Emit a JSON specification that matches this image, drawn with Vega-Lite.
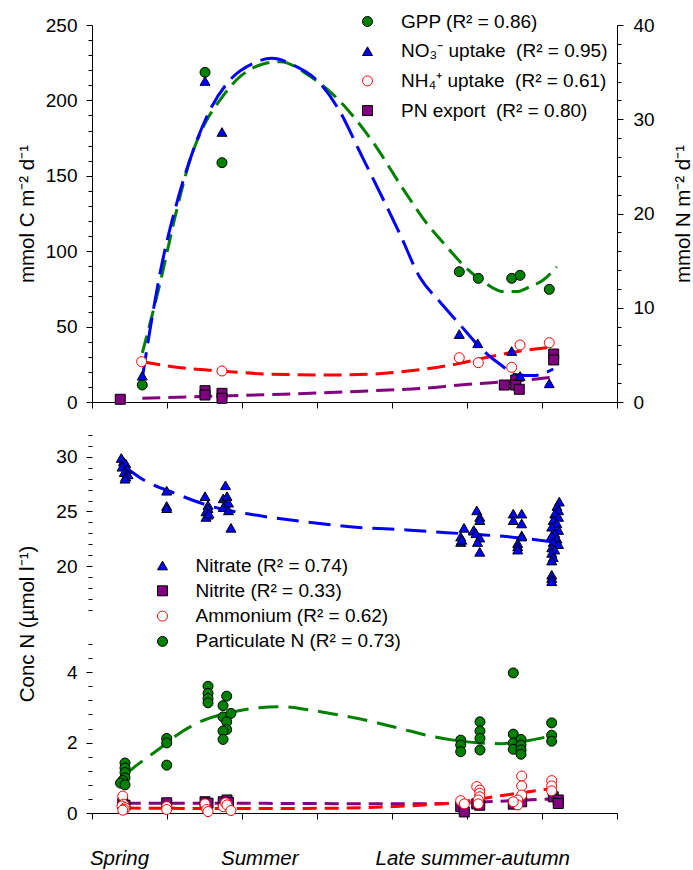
{
  "$schema": "https://vega.github.io/schema/vega-lite/v6.json",
  "padding": {"left": 17, "top": 12, "right": 0, "bottom": 0},
  "config": {
    "font": "Liberation Sans",
    "view": {"stroke": null},
    "axis": {"domainColor": "#000", "tickColor": "#000", "labelColor": "#000", "titleColor": "#000", "grid": false, "labelFont": "Liberation Sans", "titleFont": "Liberation Sans", "labelFontSize": 19, "titleFontSize": 20.5, "titleFontWeight": "normal", "tickSize": 6, "domainWidth": 1, "tickWidth": 1, "labelOverlap": false, "labelLimit": 400},
    "legend": {"labelFont": "Liberation Sans", "labelFontSize": 19, "labelColor": "#000", "padding": 0, "symbolStrokeWidth": 1, "symbolSize": 100, "labelLimit": 400}
  },
  "datasets": {
    "topPts": [
      {"s": "GPP", "x": 0.67, "v": 11.3},
      {"s": "GPP", "x": 1.507, "v": 218.6},
      {"s": "GPP", "x": 1.733, "v": 158.7},
      {"s": "GPP", "x": 4.897, "v": 86.4},
      {"s": "GPP", "x": 5.151, "v": 82.0},
      {"s": "GPP", "x": 5.596, "v": 82.0},
      {"s": "GPP", "x": 5.707, "v": 84.0},
      {"s": "GPP", "x": 6.097, "v": 74.7},
      {"s": "PN", "x": 0.377, "v": 0.29},
      {"s": "PN", "x": 1.507, "v": 1.2},
      {"s": "PN", "x": 1.507, "v": 0.74},
      {"s": "PN", "x": 1.733, "v": 0.92},
      {"s": "PN", "x": 1.733, "v": 0.39},
      {"s": "PN", "x": 5.497, "v": 1.8},
      {"s": "PN", "x": 5.649, "v": 2.33},
      {"s": "PN", "x": 5.649, "v": 1.8},
      {"s": "PN", "x": 5.697, "v": 1.35},
      {"s": "PN", "x": 6.156, "v": 5.09},
      {"s": "PN", "x": 6.156, "v": 4.46},
      {"s": "NO3", "x": 0.67, "v": 2.79},
      {"s": "NO3", "x": 1.507, "v": 34.06},
      {"s": "NO3", "x": 1.733, "v": 28.65},
      {"s": "NO3", "x": 4.897, "v": 7.21},
      {"s": "NO3", "x": 5.143, "v": 6.23},
      {"s": "NO3", "x": 5.596, "v": 5.41},
      {"s": "NO3", "x": 5.707, "v": 2.76},
      {"s": "NO3", "x": 6.097, "v": 1.98},
      {"s": "NH4", "x": 0.662, "v": 4.28},
      {"s": "NH4", "x": 1.733, "v": 3.29},
      {"s": "NH4", "x": 4.897, "v": 4.70},
      {"s": "NH4", "x": 5.151, "v": 4.17},
      {"s": "NH4", "x": 5.596, "v": 3.68},
      {"s": "NH4", "x": 5.707, "v": 6.05},
      {"s": "NH4", "x": 6.097, "v": 6.29}
    ],
    "topFit": [
      {"s": "GPP", "x": 0.671, "v": 32.5},
      {"s": "GPP", "x": 0.907, "v": 78.7},
      {"s": "GPP", "x": 1.129, "v": 127.3},
      {"s": "GPP", "x": 1.307, "v": 160.5},
      {"s": "GPP", "x": 1.507, "v": 184.8},
      {"s": "GPP", "x": 1.707, "v": 200.3},
      {"s": "GPP", "x": 1.973, "v": 215.7},
      {"s": "GPP", "x": 2.24, "v": 223.5},
      {"s": "GPP", "x": 2.507, "v": 225.7},
      {"s": "GPP", "x": 2.907, "v": 216},
      {"s": "GPP", "x": 3.213, "v": 204},
      {"s": "GPP", "x": 3.44, "v": 192},
      {"s": "GPP", "x": 3.751, "v": 172},
      {"s": "GPP", "x": 4.151, "v": 141},
      {"s": "GPP", "x": 4.463, "v": 118.5},
      {"s": "GPP", "x": 4.729, "v": 103},
      {"s": "GPP", "x": 4.973, "v": 89.7},
      {"s": "GPP", "x": 5.217, "v": 79.8},
      {"s": "GPP", "x": 5.484, "v": 73.2},
      {"s": "GPP", "x": 5.663, "v": 73.2},
      {"s": "GPP", "x": 5.84, "v": 76.5},
      {"s": "GPP", "x": 6.017, "v": 80.9},
      {"s": "GPP", "x": 6.196, "v": 89.7},
      {"s": "NO3", "x": 0.671, "v": 2.55},
      {"s": "NO3", "x": 0.773, "v": 7.64},
      {"s": "NO3", "x": 0.907, "v": 13.65},
      {"s": "NO3", "x": 1.129, "v": 21.08},
      {"s": "NO3", "x": 1.351, "v": 26.74},
      {"s": "NO3", "x": 1.573, "v": 30.98},
      {"s": "NO3", "x": 1.84, "v": 34.16},
      {"s": "NO3", "x": 2.151, "v": 35.93},
      {"s": "NO3", "x": 2.396, "v": 36.46},
      {"s": "NO3", "x": 2.684, "v": 35.76},
      {"s": "NO3", "x": 3.04, "v": 33.81},
      {"s": "NO3", "x": 3.307, "v": 30.8},
      {"s": "NO3", "x": 3.573, "v": 26.5},
      {"s": "NO3", "x": 3.84, "v": 22.2},
      {"s": "NO3", "x": 4.107, "v": 17.8},
      {"s": "NO3", "x": 4.373, "v": 13.2},
      {"s": "NO3", "x": 4.64, "v": 10.6},
      {"s": "NO3", "x": 4.907, "v": 8.2},
      {"s": "NO3", "x": 5.173, "v": 5.8},
      {"s": "NO3", "x": 5.44, "v": 4.0},
      {"s": "NO3", "x": 5.663, "v": 2.9},
      {"s": "NO3", "x": 5.884, "v": 2.8},
      {"s": "NO3", "x": 6.151, "v": 3.5},
      {"s": "NH4", "x": 0.671, "v": 4.28},
      {"s": "NH4", "x": 1.129, "v": 3.68},
      {"s": "NH4", "x": 1.733, "v": 3.29},
      {"s": "NH4", "x": 2.329, "v": 2.97},
      {"s": "NH4", "x": 3.213, "v": 2.86},
      {"s": "NH4", "x": 3.751, "v": 2.97},
      {"s": "NH4", "x": 4.417, "v": 3.47},
      {"s": "NH4", "x": 4.907, "v": 4.1},
      {"s": "NH4", "x": 5.307, "v": 4.81},
      {"s": "NH4", "x": 5.663, "v": 5.34},
      {"s": "NH4", "x": 6.151, "v": 5.87},
      {"s": "PN", "x": 0.671, "v": 0.39},
      {"s": "PN", "x": 1.733, "v": 0.64},
      {"s": "PN", "x": 2.551, "v": 0.82},
      {"s": "PN", "x": 3.44, "v": 1.09},
      {"s": "PN", "x": 3.751, "v": 1.2},
      {"s": "PN", "x": 4.417, "v": 1.45},
      {"s": "PN", "x": 4.907, "v": 1.8},
      {"s": "PN", "x": 5.484, "v": 2.15},
      {"s": "PN", "x": 5.884, "v": 2.41},
      {"s": "PN", "x": 6.151, "v": 2.65}
    ],
    "botPts": [
      {"s": "Nitrite", "x": 0.41, "v": 0.27},
      {"s": "Nitrite", "x": 0.44, "v": 0.22},
      {"s": "Nitrite", "x": 0.996, "v": 0.29},
      {"s": "Nitrite", "x": 1.507, "v": 0.32},
      {"s": "Nitrite", "x": 1.547, "v": 0.28},
      {"s": "Nitrite", "x": 1.75, "v": 0.32},
      {"s": "Nitrite", "x": 1.8, "v": 0.37},
      {"s": "Nitrite", "x": 1.82, "v": 0.3},
      {"s": "Nitrite", "x": 4.916, "v": 0.18},
      {"s": "Nitrite", "x": 4.964, "v": 0.03},
      {"s": "Nitrite", "x": 5.13, "v": 0.26},
      {"s": "Nitrite", "x": 5.17, "v": 0.22},
      {"s": "Nitrite", "x": 5.617, "v": 0.25},
      {"s": "Nitrite", "x": 5.729, "v": 0.32},
      {"s": "Nitrite", "x": 6.15, "v": 0.46},
      {"s": "Nitrite", "x": 6.217, "v": 0.37},
      {"s": "Nitrite", "x": 6.217, "v": 0.27},
      {"s": "Ammonium", "x": 0.41, "v": 0.48},
      {"s": "Ammonium", "x": 0.42, "v": 0.25},
      {"s": "Ammonium", "x": 0.40, "v": 0.2},
      {"s": "Ammonium", "x": 0.44, "v": 0.15},
      {"s": "Ammonium", "x": 0.43, "v": 0.1},
      {"s": "Ammonium", "x": 0.41, "v": 0.08},
      {"s": "Ammonium", "x": 0.996, "v": 0.18},
      {"s": "Ammonium", "x": 0.996, "v": 0.1},
      {"s": "Ammonium", "x": 1.507, "v": 0.26},
      {"s": "Ammonium", "x": 1.53, "v": 0.1},
      {"s": "Ammonium", "x": 1.547, "v": 0.04},
      {"s": "Ammonium", "x": 1.75, "v": 0.18},
      {"s": "Ammonium", "x": 1.78, "v": 0.29},
      {"s": "Ammonium", "x": 1.8, "v": 0.23},
      {"s": "Ammonium", "x": 1.853, "v": 0.07},
      {"s": "Ammonium", "x": 4.916, "v": 0.35},
      {"s": "Ammonium", "x": 4.964, "v": 0.26},
      {"s": "Ammonium", "x": 5.13, "v": 0.75},
      {"s": "Ammonium", "x": 5.17, "v": 0.65},
      {"s": "Ammonium", "x": 5.17, "v": 0.56},
      {"s": "Ammonium", "x": 5.17, "v": 0.46},
      {"s": "Ammonium", "x": 5.15, "v": 0.37},
      {"s": "Ammonium", "x": 5.15, "v": 0.26},
      {"s": "Ammonium", "x": 5.729, "v": 1.05},
      {"s": "Ammonium", "x": 5.729, "v": 0.77},
      {"s": "Ammonium", "x": 5.729, "v": 0.51},
      {"s": "Ammonium", "x": 5.676, "v": 0.37},
      {"s": "Ammonium", "x": 5.676, "v": 0.23},
      {"s": "Ammonium", "x": 5.617, "v": 0.32},
      {"s": "Ammonium", "x": 6.129, "v": 0.92},
      {"s": "Ammonium", "x": 6.129, "v": 0.77},
      {"s": "Ammonium", "x": 6.129, "v": 0.63},
      {"s": "PartN", "x": 0.44, "v": 1.42},
      {"s": "PartN", "x": 0.44, "v": 1.28},
      {"s": "PartN", "x": 0.44, "v": 1.15},
      {"s": "PartN", "x": 0.44, "v": 1.0},
      {"s": "PartN", "x": 0.41, "v": 0.92},
      {"s": "PartN", "x": 0.38, "v": 0.85},
      {"s": "PartN", "x": 0.44, "v": 0.8},
      {"s": "PartN", "x": 0.996, "v": 2.12},
      {"s": "PartN", "x": 0.996, "v": 1.99},
      {"s": "PartN", "x": 0.996, "v": 1.36},
      {"s": "PartN", "x": 1.547, "v": 3.6},
      {"s": "PartN", "x": 1.547, "v": 3.4},
      {"s": "PartN", "x": 1.547, "v": 3.25},
      {"s": "PartN", "x": 1.547, "v": 3.13},
      {"s": "PartN", "x": 1.796, "v": 3.32},
      {"s": "PartN", "x": 1.747, "v": 3.05},
      {"s": "PartN", "x": 1.747, "v": 2.73},
      {"s": "PartN", "x": 1.853, "v": 2.83},
      {"s": "PartN", "x": 1.796, "v": 2.59},
      {"s": "PartN", "x": 1.796, "v": 2.37},
      {"s": "PartN", "x": 1.747, "v": 2.33},
      {"s": "PartN", "x": 1.747, "v": 2.09},
      {"s": "PartN", "x": 4.916, "v": 2.07},
      {"s": "PartN", "x": 4.916, "v": 1.93},
      {"s": "PartN", "x": 4.916, "v": 1.74},
      {"s": "PartN", "x": 5.173, "v": 2.59},
      {"s": "PartN", "x": 5.173, "v": 2.33},
      {"s": "PartN", "x": 5.173, "v": 2.12},
      {"s": "PartN", "x": 5.173, "v": 1.79},
      {"s": "PartN", "x": 5.617, "v": 3.98},
      {"s": "PartN", "x": 5.617, "v": 2.24},
      {"s": "PartN", "x": 5.617, "v": 1.99},
      {"s": "PartN", "x": 5.617, "v": 1.81},
      {"s": "PartN", "x": 5.72, "v": 2.09},
      {"s": "PartN", "x": 5.72, "v": 1.93},
      {"s": "PartN", "x": 5.72, "v": 1.79},
      {"s": "PartN", "x": 5.72, "v": 1.67},
      {"s": "PartN", "x": 6.129, "v": 2.56},
      {"s": "PartN", "x": 6.129, "v": 2.21},
      {"s": "PartN", "x": 6.129, "v": 2.04},
      {"s": "Nitrate", "x": 0.39, "v": 29.9},
      {"s": "Nitrate", "x": 0.42, "v": 29.6},
      {"s": "Nitrate", "x": 0.45, "v": 29.4},
      {"s": "Nitrate", "x": 0.40, "v": 29.1},
      {"s": "Nitrate", "x": 0.47, "v": 28.9},
      {"s": "Nitrate", "x": 0.43, "v": 28.6},
      {"s": "Nitrate", "x": 0.48, "v": 28.4},
      {"s": "Nitrate", "x": 0.45, "v": 28.2},
      {"s": "Nitrate", "x": 0.44, "v": 28.0},
      {"s": "Nitrate", "x": 0.996, "v": 26.9},
      {"s": "Nitrate", "x": 0.996, "v": 25.5},
      {"s": "Nitrate", "x": 0.996, "v": 25.3},
      {"s": "Nitrate", "x": 1.507, "v": 26.4},
      {"s": "Nitrate", "x": 1.547, "v": 25.6},
      {"s": "Nitrate", "x": 1.547, "v": 25.3},
      {"s": "Nitrate", "x": 1.52, "v": 25.0},
      {"s": "Nitrate", "x": 1.547, "v": 24.7},
      {"s": "Nitrate", "x": 1.52, "v": 24.5},
      {"s": "Nitrate", "x": 1.56, "v": 24.8},
      {"s": "Nitrate", "x": 1.75, "v": 26.2},
      {"s": "Nitrate", "x": 1.78, "v": 27.4},
      {"s": "Nitrate", "x": 1.80, "v": 25.9},
      {"s": "Nitrate", "x": 1.75, "v": 25.4},
      {"s": "Nitrate", "x": 1.82, "v": 25.1},
      {"s": "Nitrate", "x": 1.80, "v": 26.4},
      {"s": "Nitrate", "x": 1.853, "v": 23.5},
      {"s": "Nitrate", "x": 1.82, "v": 25.8},
      {"s": "Nitrate", "x": 4.916, "v": 22.7},
      {"s": "Nitrate", "x": 4.916, "v": 22.2},
      {"s": "Nitrate", "x": 4.96, "v": 23.5},
      {"s": "Nitrate", "x": 4.93, "v": 22.4},
      {"s": "Nitrate", "x": 5.13, "v": 25.1},
      {"s": "Nitrate", "x": 5.17, "v": 24.5},
      {"s": "Nitrate", "x": 5.17, "v": 24.2},
      {"s": "Nitrate", "x": 5.09, "v": 23.3},
      {"s": "Nitrate", "x": 5.12, "v": 23.0},
      {"s": "Nitrate", "x": 5.17, "v": 22.6},
      {"s": "Nitrate", "x": 5.17, "v": 21.3},
      {"s": "Nitrate", "x": 5.14, "v": 22.2},
      {"s": "Nitrate", "x": 5.617, "v": 24.8},
      {"s": "Nitrate", "x": 5.617, "v": 24.2},
      {"s": "Nitrate", "x": 5.729, "v": 24.8},
      {"s": "Nitrate", "x": 5.729, "v": 23.9},
      {"s": "Nitrate", "x": 5.73, "v": 22.8},
      {"s": "Nitrate", "x": 5.73, "v": 22.7},
      {"s": "Nitrate", "x": 5.676, "v": 22.1},
      {"s": "Nitrate", "x": 5.676, "v": 21.8},
      {"s": "Nitrate", "x": 5.676, "v": 21.5},
      {"s": "Nitrate", "x": 6.23, "v": 25.9},
      {"s": "Nitrate", "x": 6.2, "v": 25.5},
      {"s": "Nitrate", "x": 6.22, "v": 25.1},
      {"s": "Nitrate", "x": 6.17, "v": 24.8},
      {"s": "Nitrate", "x": 6.22, "v": 24.5},
      {"s": "Nitrate", "x": 6.15, "v": 24.2},
      {"s": "Nitrate", "x": 6.2, "v": 23.9},
      {"s": "Nitrate", "x": 6.13, "v": 23.6},
      {"s": "Nitrate", "x": 6.22, "v": 23.3},
      {"s": "Nitrate", "x": 6.17, "v": 23.0},
      {"s": "Nitrate", "x": 6.13, "v": 22.8},
      {"s": "Nitrate", "x": 6.2, "v": 22.5},
      {"s": "Nitrate", "x": 6.15, "v": 22.2},
      {"s": "Nitrate", "x": 6.22, "v": 22.0},
      {"s": "Nitrate", "x": 6.13, "v": 21.7},
      {"s": "Nitrate", "x": 6.17, "v": 21.5},
      {"s": "Nitrate", "x": 6.13, "v": 21.2},
      {"s": "Nitrate", "x": 6.15, "v": 20.8},
      {"s": "Nitrate", "x": 6.13, "v": 20.5},
      {"s": "Nitrate", "x": 6.13, "v": 19.2},
      {"s": "Nitrate", "x": 6.13, "v": 18.9},
      {"s": "Nitrate", "x": 6.13, "v": 18.6}
    ],
    "botFit": [
      {"s": "Nitrate", "x": 0.463, "v": 28.96},
      {"s": "Nitrate", "x": 0.684, "v": 27.9},
      {"s": "Nitrate", "x": 1.129, "v": 26.6},
      {"s": "Nitrate", "x": 1.573, "v": 25.5},
      {"s": "Nitrate", "x": 2.151, "v": 24.7},
      {"s": "Nitrate", "x": 2.773, "v": 24.1},
      {"s": "Nitrate", "x": 3.44, "v": 23.6},
      {"s": "Nitrate", "x": 4.196, "v": 23.3},
      {"s": "Nitrate", "x": 4.64, "v": 23.1},
      {"s": "Nitrate", "x": 5.084, "v": 22.9},
      {"s": "Nitrate", "x": 5.529, "v": 22.7},
      {"s": "Nitrate", "x": 6.151, "v": 22.2},
      {"s": "PartN", "x": 0.463, "v": 1.13},
      {"s": "PartN", "x": 0.684, "v": 1.5},
      {"s": "PartN", "x": 0.907, "v": 1.84},
      {"s": "PartN", "x": 1.129, "v": 2.21},
      {"s": "PartN", "x": 1.44, "v": 2.59},
      {"s": "PartN", "x": 1.796, "v": 2.83},
      {"s": "PartN", "x": 2.151, "v": 2.97},
      {"s": "PartN", "x": 2.507, "v": 3.02},
      {"s": "PartN", "x": 2.863, "v": 2.94},
      {"s": "PartN", "x": 3.307, "v": 2.78},
      {"s": "PartN", "x": 3.751, "v": 2.59},
      {"s": "PartN", "x": 4.107, "v": 2.4},
      {"s": "PartN", "x": 4.463, "v": 2.21},
      {"s": "PartN", "x": 4.817, "v": 2.07},
      {"s": "PartN", "x": 5.173, "v": 1.99},
      {"s": "PartN", "x": 5.44, "v": 1.97},
      {"s": "PartN", "x": 5.707, "v": 2.02},
      {"s": "PartN", "x": 5.973, "v": 2.12},
      {"s": "PartN", "x": 6.151, "v": 2.21},
      {"s": "Nitrite", "x": 0.463, "v": 0.28},
      {"s": "Nitrite", "x": 1.44, "v": 0.28},
      {"s": "Nitrite", "x": 2.773, "v": 0.27},
      {"s": "Nitrite", "x": 4.107, "v": 0.26},
      {"s": "Nitrite", "x": 4.773, "v": 0.27},
      {"s": "Nitrite", "x": 5.173, "v": 0.31},
      {"s": "Nitrite", "x": 5.707, "v": 0.36},
      {"s": "Nitrite", "x": 6.151, "v": 0.4},
      {"s": "Ammonium", "x": 0.463, "v": 0.14},
      {"s": "Ammonium", "x": 1.44, "v": 0.13},
      {"s": "Ammonium", "x": 2.773, "v": 0.13},
      {"s": "Ammonium", "x": 3.573, "v": 0.15},
      {"s": "Ammonium", "x": 4.107, "v": 0.19},
      {"s": "Ammonium", "x": 4.507, "v": 0.24},
      {"s": "Ammonium", "x": 4.907, "v": 0.31},
      {"s": "Ammonium", "x": 5.173, "v": 0.4},
      {"s": "Ammonium", "x": 5.707, "v": 0.57},
      {"s": "Ammonium", "x": 6.151, "v": 0.7}
    ]
  },
  "spacing": 14,
  "resolve": {"scale": {"fill": "independent", "shape": "independent", "stroke": "independent"}, "legend": {"fill": "independent", "shape": "independent", "stroke": "independent"}},
  "vconcat": [
    {
      "width": 525,
      "height": 377,
      "resolve": {"scale": {"y": "independent"}},
      "layer": [
        {
          "encoding": {
            "x": {"field": "x", "type": "quantitative", "scale": {"domain": [0, 7], "nice": false, "zero": false}, "axis": {"values": [0, 1, 2, 3, 4, 5, 6, 7], "labels": false, "title": null, "tickSize": 6}},
            "y": {"field": "v", "type": "quantitative", "scale": {"domain": [0, 250], "nice": false}, "axis": {"orient": "left", "values": [0, 10, 20, 30, 40, 50, 60, 70, 80, 90, 100, 110, 120, 130, 140, 150, 160, 170, 180, 190, 200, 210, 220, 230, 240, 250], "labelExpr": "datum.value % 50 == 0 ? datum.label : ''", "tickSize": {"condition": {"test": "datum.value % 50 == 0", "value": 6}, "value": 4}, "title": "mmol C m⁻² d⁻¹", "titlePadding": 8, "labelPadding": 9}}
          },
          "layer": [
            {"data": {"name": "topFit"}, "transform": [{"filter": "datum.s == 'GPP'"}], "mark": {"type": "line", "color": "#008000", "strokeWidth": 3, "strokeDash": [18, 8], "interpolate": "monotone"}},
            {"data": {"name": "topPts"}, "transform": [{"filter": "datum.s == 'GPP'"}], "mark": {"type": "point", "filled": true, "size": 100, "strokeWidth": 1, "opacity": 1},
             "encoding": {
               "fill": {"field": "s", "type": "nominal", "scale": {"domain": ["GPP", "NO3", "NH4", "PN"], "range": ["#008000", "#0000ff", "#ffffff", "#800080"]}, "legend": {"orient": "none", "legendX": 266, "legendY": -13, "title": null, "rowPadding": 9.7, "labelOffset": 24, "labelExpr": "datum.label == 'GPP' ? 'GPP (R² = 0.86)' : datum.label == 'NO3' ? 'NO₃⁻ uptake\u00a0 (R² = 0.95)' : datum.label == 'NH4' ? 'NH₄⁺ uptake\u00a0 (R² = 0.61)' : 'PN export\u00a0 (R² = 0.80)'"}},
               "shape": {"field": "s", "type": "nominal", "scale": {"domain": ["GPP", "NO3", "NH4", "PN"], "range": ["circle", "triangle-up", "circle", "square"]}, "legend": {"orient": "none", "legendX": 266, "legendY": -13, "title": null, "rowPadding": 9.7, "labelOffset": 24, "labelExpr": "datum.label == 'GPP' ? 'GPP (R² = 0.86)' : datum.label == 'NO3' ? 'NO₃⁻ uptake\u00a0 (R² = 0.95)' : datum.label == 'NH4' ? 'NH₄⁺ uptake\u00a0 (R² = 0.61)' : 'PN export\u00a0 (R² = 0.80)'"}},
               "stroke": {"field": "s", "type": "nominal", "scale": {"domain": ["GPP", "NO3", "NH4", "PN"], "range": ["#000000", "#000000", "#ff0000", "#000000"]}, "legend": {"orient": "none", "legendX": 266, "legendY": -13, "title": null, "rowPadding": 9.7, "labelOffset": 24, "labelExpr": "datum.label == 'GPP' ? 'GPP (R² = 0.86)' : datum.label == 'NO3' ? 'NO₃⁻ uptake\u00a0 (R² = 0.95)' : datum.label == 'NH4' ? 'NH₄⁺ uptake\u00a0 (R² = 0.61)' : 'PN export\u00a0 (R² = 0.80)'"}}
             }
            }
          ]
        },
        {
          "encoding": {
            "x": {"field": "x", "type": "quantitative", "scale": {"domain": [0, 7], "nice": false, "zero": false}, "axis": {"values": [0, 1, 2, 3, 4, 5, 6, 7], "labels": false, "title": null, "tickSize": 6}},
            "y": {"field": "v", "type": "quantitative", "scale": {"domain": [0, 40], "nice": false}, "axis": {"orient": "right", "values": [0, 2, 4, 6, 8, 10, 12, 14, 16, 18, 20, 22, 24, 26, 28, 30, 32, 34, 36, 38, 40], "labelExpr": "datum.value % 10 == 0 ? datum.label : ''", "tickSize": {"condition": {"test": "datum.value % 10 == 0", "value": 6}, "value": 4}, "title": "mmol N m⁻² d⁻¹", "titleAngle": 270, "titlePadding": 39, "labelPadding": 10}}
          },
          "layer": [
            {"data": {"name": "topFit"}, "transform": [{"filter": "datum.s == 'PN'"}], "mark": {"type": "line", "color": "#800080", "strokeWidth": 3, "strokeDash": [18, 8], "interpolate": "monotone"}},
            {"data": {"name": "topFit"}, "transform": [{"filter": "datum.s == 'NH4'"}], "mark": {"type": "line", "color": "#ff0000", "strokeWidth": 3, "strokeDash": [18, 8], "interpolate": "monotone"}},
            {"data": {"name": "topFit"}, "transform": [{"filter": "datum.s == 'NO3'"}], "mark": {"type": "line", "color": "#0000ff", "strokeWidth": 3, "strokeDash": [26, 9], "interpolate": "monotone"}},
            {"data": {"name": "topPts"}, "transform": [{"filter": "datum.s != 'GPP'"}], "mark": {"type": "point", "filled": true, "size": 100, "strokeWidth": 1, "opacity": 1},
             "encoding": {
               "fill": {"field": "s", "type": "nominal", "scale": {"domain": ["GPP", "NO3", "NH4", "PN"], "range": ["#008000", "#0000ff", "#ffffff", "#800080"]}},
               "shape": {"field": "s", "type": "nominal", "scale": {"domain": ["GPP", "NO3", "NH4", "PN"], "range": ["circle", "triangle-up", "circle", "square"]}},
               "stroke": {"field": "s", "type": "nominal", "scale": {"domain": ["GPP", "NO3", "NH4", "PN"], "range": ["#000000", "#000000", "#ff0000", "#000000"]}}
             }
            }
          ]
        }
      ]
    },
    {
      "width": 525,
      "height": 379,
      "encoding": {
        "x": {"field": "x", "type": "quantitative", "scale": {"domain": [0, 7], "nice": false, "zero": false}, "axis": {"values": [0, 0.36, 1, 2, 2.23, 3, 4, 5, 5.07, 6, 7], "title": null, "tickSize": 6, "tickOpacity": {"condition": {"test": "indexof([0.36, 2.23, 5.07], datum.value) >= 0", "value": 0}, "value": 1}, "labelExpr": "datum.value == 0.36 ? 'Spring' : datum.value == 2.23 ? 'Summer' : datum.value == 5.07 ? 'Late summer-autumn' : ''", "labelFontStyle": "italic", "labelFontSize": 20.5, "labelPadding": 29, "labelFlush": false, "labelBound": false}},
        "y": {"field": "v", "type": "quantitative", "scale": {"domain": [0, 5, 15.6, 32.1], "range": [379, 203, 180, 0], "nice": false, "zero": false}, "axis": {"domain": false, "values": [0, 0.4, 0.8, 1.2, 1.6, 2, 2.4, 2.8, 3.2, 3.6, 4, 4.4, 4.8, 16, 17, 18, 19, 20, 21, 22, 23, 24, 25, 26, 27, 28, 29, 30, 31, 32], "labelExpr": "indexof([0, 2, 4, 20, 25, 30], datum.value) >= 0 ? datum.label : ''", "tickSize": {"condition": {"test": "indexof([0, 2, 4, 20, 25, 30], datum.value) >= 0", "value": 6}, "value": 4}, "title": "Conc N (µmol l⁻¹)", "titlePadding": 18, "labelPadding": 9}}
      },
      "layer": [
        {"data": {"name": "botFit"}, "transform": [{"filter": "datum.s == 'Nitrite'"}], "mark": {"type": "line", "color": "#800080", "strokeWidth": 3, "strokeDash": [14, 8], "interpolate": "monotone"}},
        {"data": {"name": "botFit"}, "transform": [{"filter": "datum.s == 'Ammonium'"}], "mark": {"type": "line", "color": "#ff0000", "strokeWidth": 3, "strokeDash": [14, 8], "interpolate": "monotone"}},
        {"data": {"name": "botFit"}, "transform": [{"filter": "datum.s == 'PartN'"}], "mark": {"type": "line", "color": "#008000", "strokeWidth": 3, "strokeDash": [20, 10], "interpolate": "monotone"}},
        {"data": {"name": "botFit"}, "transform": [{"filter": "datum.s == 'Nitrate'"}], "mark": {"type": "line", "color": "#0000ff", "strokeWidth": 3, "strokeDash": [22, 10], "interpolate": "monotone"}},
        {"data": {"name": "botPts"}, "mark": {"type": "point", "filled": true, "size": 100, "strokeWidth": 1, "opacity": 1},
         "encoding": {
           "fill": {"field": "s", "type": "nominal", "scale": {"domain": ["Nitrate", "Nitrite", "Ammonium", "PartN"], "range": ["#0000ff", "#800080", "#ffffff", "#008000"]}, "legend": {"orient": "none", "legendX": 61, "legendY": 122, "title": null, "rowPadding": 5.3, "labelOffset": 23.5, "labelExpr": "datum.label == 'Nitrate' ? 'Nitrate (R² = 0.74)' : datum.label == 'Nitrite' ? 'Nitrite (R² = 0.33)' : datum.label == 'Ammonium' ? 'Ammonium (R² = 0.62)' : 'Particulate N (R² = 0.73)'"}},
           "shape": {"field": "s", "type": "nominal", "scale": {"domain": ["Nitrate", "Nitrite", "Ammonium", "PartN"], "range": ["triangle-up", "square", "circle", "circle"]}, "legend": {"orient": "none", "legendX": 61, "legendY": 122, "title": null, "rowPadding": 5.3, "labelOffset": 23.5, "labelExpr": "datum.label == 'Nitrate' ? 'Nitrate (R² = 0.74)' : datum.label == 'Nitrite' ? 'Nitrite (R² = 0.33)' : datum.label == 'Ammonium' ? 'Ammonium (R² = 0.62)' : 'Particulate N (R² = 0.73)'"}},
           "stroke": {"field": "s", "type": "nominal", "scale": {"domain": ["Nitrate", "Nitrite", "Ammonium", "PartN"], "range": ["#000000", "#000000", "#ff0000", "#000000"]}, "legend": {"orient": "none", "legendX": 61, "legendY": 122, "title": null, "rowPadding": 5.3, "labelOffset": 23.5, "labelExpr": "datum.label == 'Nitrate' ? 'Nitrate (R² = 0.74)' : datum.label == 'Nitrite' ? 'Nitrite (R² = 0.33)' : datum.label == 'Ammonium' ? 'Ammonium (R² = 0.62)' : 'Particulate N (R² = 0.73)'"}}
         }
        },
        {"data": {"values": [{}]}, "mark": {"type": "rule", "color": "#000", "strokeWidth": 1}, "encoding": {"x": {"datum": 0}, "y": {"datum": 0}, "y2": {"datum": 5}}},
        {"data": {"values": [{}]}, "mark": {"type": "rule", "color": "#000", "strokeWidth": 1}, "encoding": {"x": {"datum": 0}, "y": {"datum": 15.6}, "y2": {"datum": 32.1}}},
        {"data": {"values": [{}]}, "mark": {"type": "rule", "color": "#000", "strokeWidth": 1}, "encoding": {"x": {"datum": -0.187}, "x2": {"datum": 0.187}, "y": {"datum": 11.31}, "y2": {"datum": 16.42}}},
        {"data": {"values": [{}]}, "mark": {"type": "rule", "color": "#000", "strokeWidth": 1}, "encoding": {"x": {"datum": -0.187}, "x2": {"datum": 0.187}, "y": {"datum": 4.58}, "y2": {"datum": 11.31}}}
      ]
    }
  ]
}
